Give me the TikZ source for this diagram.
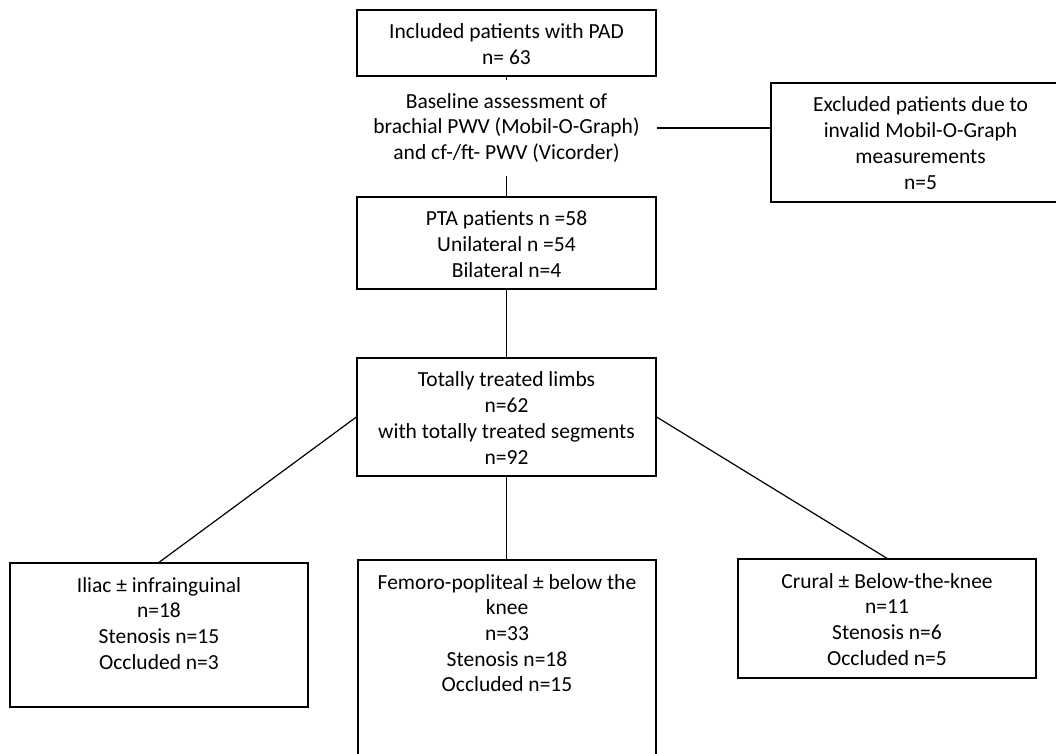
\documentclass[tikz,border=0pt]{standalone}
\usepackage{fontspec}
\setmainfont{Carlito}
\newcommand\boxtxt[3]{\parbox[c][#2][t]{#1}{\centering\vspace*{11pt}\strut#3}}
\tikzset{
  flowbox/.style={draw, inner sep=0pt, line width=1.3pt, fill=white},
  plaintxt/.style={inner sep=0pt, align=center},
  link/.style={line width=1.2pt},
  every node/.style={font=\fontsize{21.5}{25.7}\selectfont}
}
\begin{document}
\begin{tikzpicture}[x=1pt,y=-1pt]
\useasboundingbox (0,0) rectangle (1056,753);
\clip (0,0) rectangle (1056,753);
\fill[white] (0,0) rectangle (1056,753);

\node[flowbox, minimum width=299pt, minimum height=66pt] (inc) at (506.5,43)
  {\boxtxt{299pt}{66pt}{Included patients with PAD\\n= 63}};

\node[plaintxt, minimum width=300pt, minimum height=96pt] (base) at (506.5,128)
  {Baseline assessment of\\brachial PWV (Mobil-O-Graph)\\and cf-/ft- PWV (Vicorder)};

\node[flowbox, minimum width=299pt, minimum height=119pt] (exc) at (920.5,142.5)
  {\boxtxt{299pt}{119pt}{Excluded patients due to\\invalid Mobil-O-Graph\\measurements\\n=5}};

\node[flowbox, minimum width=299pt, minimum height=92pt] (pta) at (506.5,243)
  {\boxtxt{299pt}{92pt}{PTA patients n =58\\Unilateral n =54\\Bilateral n=4}};

\node[flowbox, minimum width=299pt, minimum height=118pt] (tot) at (506.5,417)
  {\boxtxt{299pt}{118pt}{Totally treated limbs\\n=62\\with totally treated segments\\n=92}};

\node[flowbox, minimum width=298pt, minimum height=144pt] (ili) at (159,635)
  {\boxtxt{298pt}{144pt}{Iliac \textpm{} infrainguinal\\n=18\\Stenosis n=15\\Occluded n=3}};

\node[flowbox, minimum width=298pt, minimum height=240pt] (fem) at (507,680)
  {\boxtxt{298pt}{240pt}{Femoro-popliteal \textpm{} below the\\knee\\n=33\\Stenosis n=18\\Occluded n=15}};

\node[flowbox, minimum width=298pt, minimum height=119pt] (cru) at (887,618.5)
  {\boxtxt{298pt}{119pt}{Crural \textpm{} Below-the-knee\\n=11\\Stenosis n=6\\Occluded n=5}};

\draw[link] (inc.south) -- (base.north);
\draw[link] (base.south) -- (pta.north);
\draw[link] (base.east) -- (base.east -| exc.west);
\draw[link] (pta.south) -- (tot.north);
\draw[link] (tot.west) -- (ili.north);
\draw[link] (tot.south) -- (tot.south |- fem.north);
\draw[link] (tot.east) -- (cru.north);
\end{tikzpicture}
\end{document}
